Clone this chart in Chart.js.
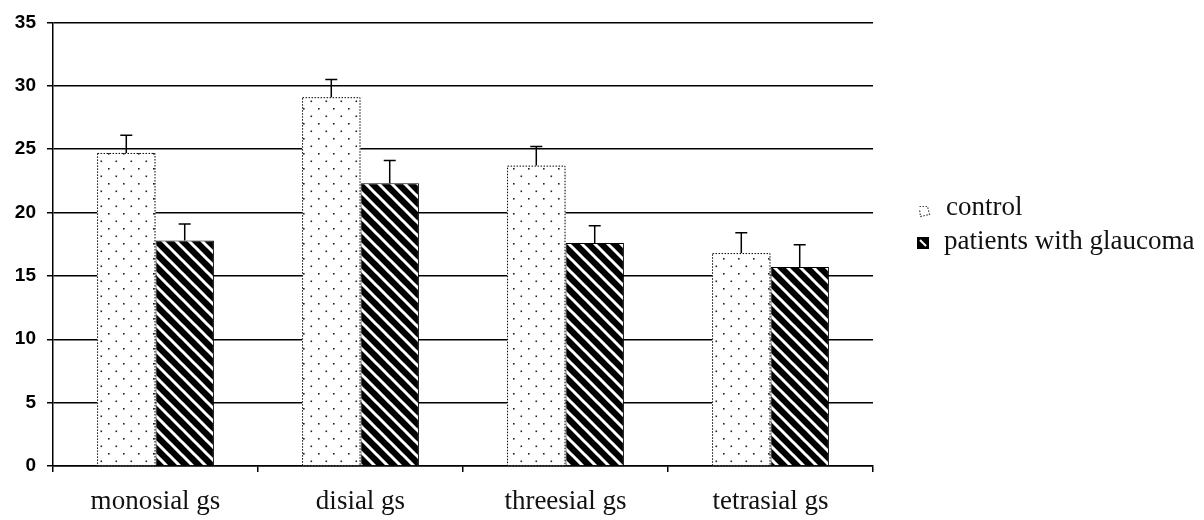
<!DOCTYPE html>
<html>
<head>
<meta charset="utf-8">
<script src="https://cdn.jsdelivr.net/npm/chart.js@4"></script>
<style>
  body { margin: 0; background: #fff; }
</style>
</head>
<body>
<canvas id="barChart" width="1204" height="520"></canvas>
<script>
    var categories = ['monosial gs', 'disial gs', 'threesial gs', 'tetrasial gs'];
    var control = [24.7, 29.1, 23.7, 16.8];
    var controlErr = [1.4, 1.4, 1.5, 1.6];
    var glaucoma = [17.8, 22.3, 17.6, 15.7];
    var glaucomaErr = [1.3, 1.8, 1.35, 1.75];
    var yTicks = [0, 5, 10, 15, 20, 25, 30, 35];

    // dotted fill for control bars
    function dotPattern() {
        var c = document.createElement('canvas');
        c.width = 15; c.height = 15;
        var g = c.getContext('2d');
        g.fillStyle = '#fff';
        g.fillRect(0, 0, 15, 15);
        g.fillStyle = '#222';
        g.fillRect(3, 3, 1.6, 1.6);
        g.fillRect(10.5, 10.5, 1.6, 1.6);
        return g.createPattern(c, 'repeat');
    }

    // black with white "\" stripes for glaucoma bars
    function stripePattern() {
        var s = 13;
        var c = document.createElement('canvas');
        c.width = s; c.height = s;
        var g = c.getContext('2d');
        g.fillStyle = '#000';
        g.fillRect(0, 0, s, s);
        g.strokeStyle = '#fff';
        g.lineWidth = 3;
        g.beginPath();
        g.moveTo(-s, 0); g.lineTo(s, 2 * s);
        g.moveTo(0, 0); g.lineTo(s, s);
        g.moveTo(0, -s); g.lineTo(2 * s, s);
        g.stroke();
        return g.createPattern(c, 'repeat');
    }

    var dots = dotPattern();
    var stripes = stripePattern();

    var errorBars = {
        id: 'errorBars',
        afterDatasetsDraw: function(chart) {
            var ctx = chart.ctx;
            var y = chart.scales.y;
            var errs = [controlErr, glaucomaErr];
            ctx.save();
            chart.data.datasets.forEach(function(ds, i) {
                chart.getDatasetMeta(i).data.forEach(function(bar, j) {
                    if (i === 0) {
                        // dotted outline
                        ctx.setLineDash([1.5, 1.5]);
                        ctx.strokeStyle = '#000';
                        ctx.lineWidth = 1;
                        var w = bar.width;
                        ctx.strokeRect(bar.x - w / 2 + 0.5, bar.y + 0.5, w - 1, bar.base - bar.y);
                        ctx.setLineDash([]);
                    }
                    var top = y.getPixelForValue(ds.data[j] + errs[i][j]);
                    ctx.strokeStyle = '#000';
                    ctx.lineWidth = 1.5;
                    ctx.beginPath();
                    ctx.moveTo(bar.x, bar.y);
                    ctx.lineTo(bar.x, top);
                    ctx.moveTo(bar.x - 6, top);
                    ctx.lineTo(bar.x + 6, top);
                    ctx.stroke();
                });
            });
            ctx.restore();
        }
    };

    var sideLegend = {
        id: 'sideLegend',
        afterDraw: function(chart) {
            var ctx = chart.ctx;
            var ds = chart.data.datasets;
            ctx.save();
            ctx.font = '27px "Liberation Serif", serif';
            ctx.textBaseline = 'middle';
            ctx.fillStyle = '#111';
            // control marker
            ctx.setLineDash([1.5, 1.5]);
            ctx.strokeStyle = '#444';
            ctx.lineWidth = 1.2;
            ctx.beginPath();
            ctx.moveTo(919.5, 206.5);
            ctx.lineTo(927.5, 206.5);
            ctx.lineTo(929.5, 214.5);
            ctx.lineTo(920.5, 216.5);
            ctx.lineTo(919.5, 209.5);
            ctx.stroke();
            ctx.setLineDash([]);
            ctx.fillText(ds[0].label, 946, 208);
            // glaucoma marker
            ctx.fillStyle = '#000';
            ctx.fillRect(917, 237, 12, 12);
            ctx.strokeStyle = '#fff';
            ctx.lineWidth = 2;
            ctx.beginPath();
            ctx.moveTo(920, 240);
            ctx.lineTo(926, 246);
            ctx.stroke();
            ctx.fillStyle = '#111';
            ctx.fillText(ds[1].label, 944, 242);
            ctx.restore();
        }
    };

    var ctxBar = document.getElementById('barChart').getContext('2d');
    var barChart = new Chart(ctxBar, {
        type: 'bar',
        data: {
            labels: categories,
            datasets: [{
                label: 'control',
                data: control,
                backgroundColor: dots,
                borderWidth: 0
            }, {
                label: 'patients with glaucoma',
                data: glaucoma,
                backgroundColor: stripes,
                borderColor: '#000',
                borderWidth: 1
            }]
        },
        options: {
            responsive: false,
            animation: false,
            events: [],
            layout: {
                autoPadding: false,
                padding: { top: 22, right: 331, left: 0, bottom: 0 }
            },
            datasets: {
                bar: { categoryPercentage: 0.57, barPercentage: 1 }
            },
            plugins: {
                legend: { display: false },
                tooltip: { enabled: false }
            },
            scales: {
                x: {
                    afterFit: function(scale) { scale.height = 54; },
                    grid: {
                        drawOnChartArea: false,
                        drawTicks: true,
                        tickLength: 6,
                        color: '#000',
                        lineWidth: 1.5
                    },
                    border: { display: true, color: '#000', width: 1.5 },
                    ticks: {
                        color: '#111',
                        padding: 14,
                        font: { family: '"Liberation Serif", serif', size: 27 }
                    }
                },
                y: {
                    min: 0,
                    max: 35,
                    afterFit: function(scale) { scale.width = 53; },
                    afterBuildTicks: function(scale) {
                        scale.ticks = yTicks.map(function(v) { return { value: v }; });
                    },
                    grid: {
                        color: '#000',
                        lineWidth: 1.5,
                        tickLength: 6
                    },
                    border: { display: true, color: '#000', width: 1.5 },
                    ticks: {
                        color: '#000',
                        padding: 11,
                        font: { family: '"Liberation Sans", Arial, sans-serif', size: 19, weight: 'bold' }
                    }
                }
            }
        },
        plugins: [errorBars, sideLegend]
    });
</script>
</body>
</html>
